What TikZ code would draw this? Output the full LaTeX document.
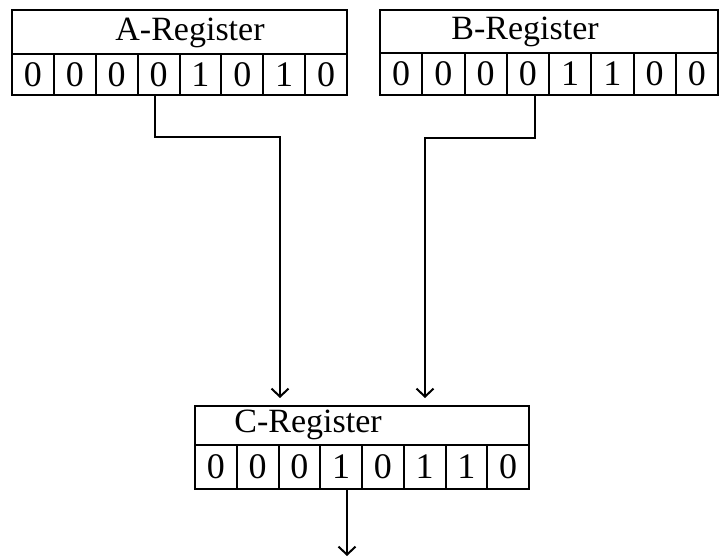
\documentclass[tikz,border=0pt]{standalone}
\usepackage{fontspec}
\setmainfont{Liberation Serif}
\usetikzlibrary{arrows.meta,positioning}

\begin{document}
\begin{tikzpicture}[x=1pt,y=-1pt,
  bit/.style={draw, line width=2pt, inner sep=0pt, font=\fontsize{36}{36}\selectfont},
  head/.style={draw, line width=2pt, inner sep=0pt},
  regname/.style={inner sep=0pt, font=\fontsize{34}{34}\selectfont},
  wire/.style={line width=2pt},
  arr/.style={wire, -{Straight Barb[length=8pt,width=17pt,line width=2pt]}}]

\useasboundingbox (0,0) rectangle (720,559);

% A-Register
\def\aw{41.875}
\node[head, minimum width=335pt, minimum height=44pt] (ahead) at (179.5,32) {};
\node[regname] (aname) at (190,33) {A-Register};
\foreach \b [count=\i] in {0,0,0,0,1,0,1,0}
  \node[bit, minimum width=\aw pt, minimum height=41pt] (a\i) at ({12+(\i-0.5)*\aw},74.5) {\b};

% B-Register
\def\bw{42.25}
\node[head, minimum width=338pt, minimum height=43pt] (bhead) at (549,31.5) {};
\node[regname] (bname) at (525,32) {B-Register};
\foreach \b [count=\i] in {0,0,0,0,1,1,0,0}
  \node[bit, minimum width=\bw pt, minimum height=42pt] (b\i) at ({380+(\i-0.5)*\bw},74) {\b};

% C-Register
\def\cw{41.75}
\node[head, minimum width=334pt, minimum height=39pt] (chead) at (362,425.5) {};
\node[regname] (cname) at (308,425) {C-Register};
\foreach \b [count=\i] in {0,0,0,1,0,1,1,0}
  \node[bit, minimum width=\cw pt, minimum height=44pt] (c\i) at ({195+(\i-0.5)*\cw},467) {\b};

% A to C
\coordinate (abend) at (280,137);
\coordinate (ain) at (280,398);
\draw[arr] ([xshift=-4pt]a4.south) |- (abend) -- (ain);

% B to C
\coordinate (bbend) at (425,138);
\coordinate (bin) at (425,398);
\draw[arr] ([xshift=7pt]b4.south) |- (bbend) -- (bin);

% Output of C
\coordinate (cout) at (347,556);
\draw[arr] (c4.south -| cout) -- (cout);

\end{tikzpicture}
\end{document}
